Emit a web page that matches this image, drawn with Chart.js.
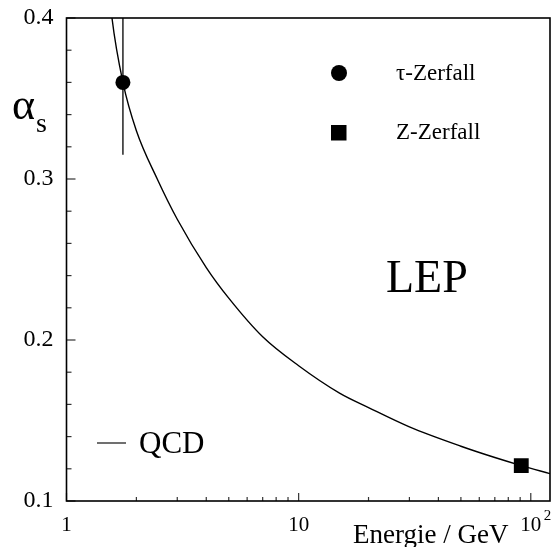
<!DOCTYPE html>
<html>
<head>
<meta charset="utf-8">
<script src="https://cdn.jsdelivr.net/npm/chart.js@4/dist/chart.umd.min.js"></script>
<style>
  html, body { margin: 0; padding: 0; background: #fff; }
  #wrap { width: 551px; height: 547px; }
</style>
</head>
<body>
<div id="wrap"><canvas id="myChart" width="551" height="547"></canvas></div>
<script>
// QCD curve
const qcdEnergy = [1.5, 1.57, 1.75, 2.0, 2.46, 3.0, 4.0, 5.0, 7.0, 10, 15, 20, 30, 50, 70, 91, 121];
const qcdAlpha  = [0.43, 0.40, 0.36, 0.33, 0.30, 0.275, 0.245, 0.226, 0.202, 0.184, 0.167, 0.158, 0.146, 0.134, 0.127, 0.122, 0.117];

// measurements
const tauEnergy = [1.75];
const tauAlpha = [0.36];
const tauErrLow = [0.315];
const tauErrHigh = [0.41];
const zEnergy = [91];
const zAlpha = [0.122];

const xTickValues = [1, 10, 100];
const xTickLabels = ['1', '10', '10'];
const yTickValues = [0.1, 0.2, 0.3, 0.4];

const serif = '"Liberation Serif", "DejaVu Serif", serif';

// ticks pointing inwards, frame, error bar and the text inside the plot
const extras = {
    id: 'extras',
    beforeDatasetsDraw(chart) {
        const ctx = chart.ctx;
        const x = chart.scales.x, y = chart.scales.y;
        ctx.save();
        // error bar of the tau point
        ctx.beginPath();
        ctx.rect(chart.chartArea.left, chart.chartArea.top, chart.chartArea.width, chart.chartArea.height);
        ctx.clip();
        ctx.strokeStyle = '#222';
        ctx.lineWidth = 1.5;
        tauEnergy.forEach(function(e, i) {
            const px = x.getPixelForValue(e);
            ctx.beginPath();
            ctx.moveTo(px, y.getPixelForValue(tauErrLow[i]));
            ctx.lineTo(px, y.getPixelForValue(tauErrHigh[i]));
            ctx.stroke();
        });
        ctx.restore();
    },
    afterDraw(chart) {
        const ctx = chart.ctx;
        const a = chart.chartArea;
        const x = chart.scales.x, y = chart.scales.y;
        ctx.save();
        ctx.strokeStyle = '#333';
        ctx.lineWidth = 1.2;
        // y ticks every 0.02
        for (let k = 5; k <= 20; k++) {
            const v = k / 50;
            const py = y.getPixelForValue(v);
            const len = (k % 5 === 0) ? 9 : 5;
            ctx.beginPath();
            ctx.moveTo(a.left, py);
            ctx.lineTo(a.left + len, py);
            ctx.stroke();
        }
        // x ticks: 1..9, 10..90, 100
        for (let d = 1; d <= 100; d *= 10) {
            for (let m = 1; m <= 9; m++) {
                const v = m * d;
                if (v > x.max) break;
                const px = x.getPixelForValue(v);
                const len = (m === 1) ? 8 : 4;
                ctx.beginPath();
                ctx.moveTo(px, a.bottom);
                ctx.lineTo(px, a.bottom - len);
                ctx.stroke();
            }
        }
        // frame
        ctx.strokeStyle = '#000';
        ctx.lineWidth = 1.6;
        ctx.strokeRect(a.left, a.top, a.right - a.left, a.bottom - a.top);

        ctx.fillStyle = '#000';
        ctx.textAlign = 'left';
        ctx.textBaseline = 'alphabetic';
        // superscript of the last x label
        ctx.font = '15px ' + serif;
        ctx.fillText('2', x.getPixelForValue(100) + 13, 520);

        // axis titles
        ctx.font = '27px ' + serif;
        ctx.fillText('Energie / GeV', 353, 543);
        ctx.font = '44px ' + serif;
        ctx.fillText('\u03B1', 12, 119);
        ctx.font = '28px ' + serif;
        ctx.fillText('s', 36, 132);

        // legend
        ctx.beginPath();
        ctx.arc(339, 73, 8, 0, Math.PI * 2);
        ctx.fill();
        ctx.fillRect(331, 125, 15.5, 15.5);
        ctx.font = '23px ' + serif;
        ctx.fillText('\u03C4-Zerfall', 396, 80);
        ctx.fillText('Z-Zerfall', 396, 139);

        // labels in the plot
        ctx.font = '46px ' + serif;
        ctx.fillText('LEP', 386, 292);
        ctx.strokeStyle = '#222';
        ctx.lineWidth = 1.3;
        ctx.beginPath();
        ctx.moveTo(97, 443);
        ctx.lineTo(126, 443);
        ctx.stroke();
        ctx.font = '31px ' + serif;
        ctx.fillText('QCD', 139, 453);
        ctx.restore();
    }
};

const data = {
    datasets: [{
        label: 'QCD',
        data: qcdEnergy.map(function(e, i) { return { x: e, y: qcdAlpha[i] }; }),
        showLine: true,
        borderColor: '#000',
        borderWidth: 1.4,
        pointRadius: 0,
        cubicInterpolationMode: 'monotone',
        fill: false,
    },
    {
        label: '\u03C4-Zerfall',
        data: tauEnergy.map(function(e, i) { return { x: e, y: tauAlpha[i] }; }),
        showLine: false,
        pointStyle: 'circle',
        pointRadius: 7.5,
        backgroundColor: '#000',
        borderColor: '#000',
        borderWidth: 0,
    },
    {
        label: 'Z-Zerfall',
        data: zEnergy.map(function(e, i) { return { x: e, y: zAlpha[i] }; }),
        showLine: false,
        pointStyle: 'rect',
        pointRadius: 10.5,
        backgroundColor: '#000',
        borderColor: '#000',
        borderWidth: 0,
    }]
};

const config = {
    type: 'scatter',
    data: data,
    plugins: [extras],
    options: {
        responsive: false,
        animation: false,
        layout: { autoPadding: false, padding: { top: 18, right: 1, left: 0, bottom: 0 } },
        plugins: {
            legend: { display: false },
            tooltip: { enabled: false }
        },
        scales: {
            x: {
                type: 'logarithmic',
                min: 1,
                max: 121,
                grid: { display: false, drawTicks: false },
                border: { display: false },
                afterBuildTicks: function(scale) {
                    scale.ticks = xTickValues.map(function(v) { return { value: v }; });
                },
                afterFit: function(scale) {
                    scale.height = 46;
                    scale.paddingLeft = 0;
                    scale.paddingRight = 0;
                },
                ticks: {
                    autoSkip: false,
                    maxRotation: 0,
                    padding: 12,
                    color: '#000',
                    font: { family: serif, size: 21 },
                    callback: function(value) {
                        const i = xTickValues.indexOf(value);
                        return i >= 0 ? xTickLabels[i] : '';
                    }
                }
            },
            y: {
                type: 'linear',
                min: 0.1,
                max: 0.4,
                grid: { display: false, drawTicks: false },
                border: { display: false },
                afterBuildTicks: function(scale) {
                    scale.ticks = yTickValues.map(function(v) { return { value: v }; });
                },
                afterFit: function(scale) {
                    scale.width = 66.5;
                    scale.paddingTop = 0;
                    scale.paddingBottom = 0;
                },
                ticks: {
                    padding: 13,
                    color: '#000',
                    font: { family: serif, size: 24 },
                    callback: function(value) { return value.toFixed(1); }
                }
            }
        }
    }
};

const myChart = new Chart(
    document.getElementById('myChart'),
    config
);
</script>
</body>
</html>
